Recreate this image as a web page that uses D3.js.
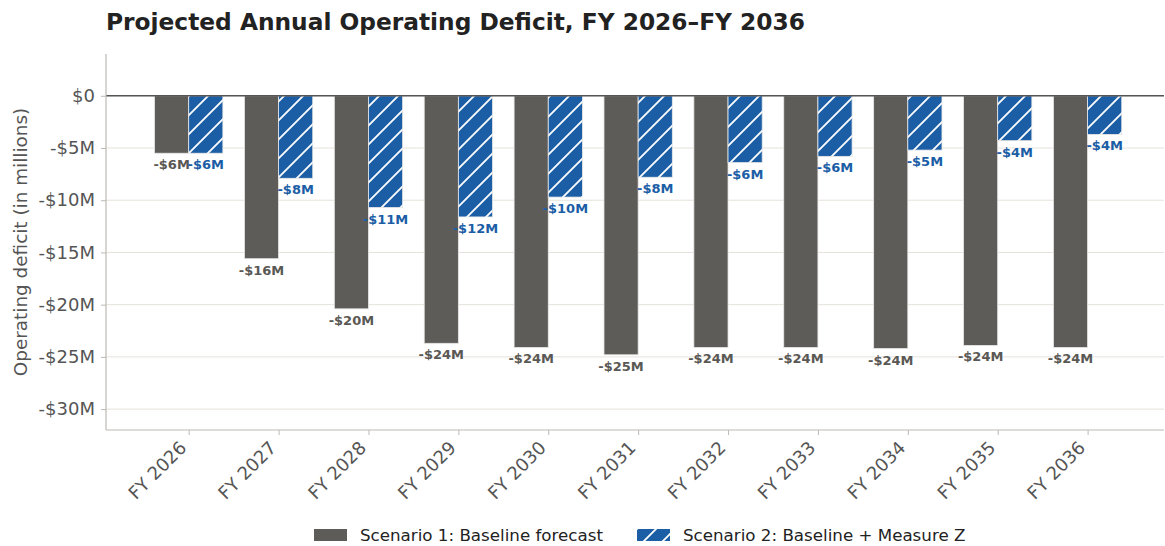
<!DOCTYPE html>
<html>
<head>
<meta charset="utf-8">
<script src="https://cdn.jsdelivr.net/npm/d3@7"></script>
<style>
  html, body { margin: 0; padding: 0; background: #fff; }
  svg { display: block; font-family: "DejaVu Sans", sans-serif; }
</style>
</head>
<body>
<div id="chart"></div>
<script>
// values in $M
const years = ['FY 2026', 'FY 2027', 'FY 2028', 'FY 2029', 'FY 2030', 'FY 2031',
  'FY 2032', 'FY 2033', 'FY 2034', 'FY 2035', 'FY 2036'];
const baseline = [-5.5, -15.6, -20.4, -23.7, -24.1, -24.8, -24.1, -24.1, -24.2, -23.9, -24.1];
const measureZ = [-5.5, -7.9, -10.7, -11.6, -9.7, -7.8, -6.4, -5.8, -5.2, -4.3, -3.7];
const yTicks = [0, -5, -10, -15, -20, -25, -30];
const seriesNames = ['Scenario 1: Baseline forecast', 'Scenario 2: Baseline + Measure Z'];

const W = 1165, H = 546;
const M = { top: 54, right: 1, bottom: 116, left: 106 };
const GRAY = '#5e5c58', BLUE = '#1c5ea5', INK = '#555';

const svg = d3.select('#chart').append('svg').attr('width', W).attr('height', H);

const defs = svg.append('defs');
const pat = defs.append('pattern').attr('id', 'hatch')
  .attr('patternUnits', 'userSpaceOnUse').attr('width', 19).attr('height', 19);
pat.append('rect').attr('width', 19).attr('height', 19).attr('fill', BLUE);
pat.append('path').attr('d', 'M-2,21 L21,-2 M-5,5 L5,-5 M14,24 L24,14')
  .attr('stroke', '#fff').attr('stroke-width', 1.8);

const x = d3.scaleLinear().domain([-0.92, years.length - 1 + 0.85]).range([M.left, W - M.right]);
const y = d3.scaleLinear().domain([4, -32]).range([M.top, H - M.bottom]);
const bw = x(0.38) - x(0);

// gridlines
svg.append('g').selectAll('line').data(yTicks).join('line')
  .attr('x1', M.left).attr('x2', W - M.right)
  .attr('y1', d => y(d)).attr('y2', d => y(d))
  .attr('stroke', '#e4e2dc').attr('stroke-width', 1);

// title
svg.append('text').attr('x', M.left).attr('y', 30)
  .attr('font-size', 23.3).attr('font-weight', 'bold').attr('fill', '#222')
  .text('Projected Annual Operating Deficit, FY 2026\u2013FY 2036');

// bars
const fmtM = v => '-$' + Math.round(Math.abs(v)) + 'M';
const series = [
  { vals: baseline, off: -1, fill: GRAY, color: '#5a5854' },
  { vals: measureZ, off: 0, fill: 'url(#hatch)', color: BLUE }
];
series.forEach(s => {
  const g = svg.append('g');
  g.selectAll('rect').data(s.vals).join('rect')
    .attr('x', (d, i) => x(i) + s.off * bw)
    .attr('y', y(0))
    .attr('width', bw)
    .attr('height', d => y(d) - y(0))
    .attr('fill', s.fill)
    .attr('stroke', '#e8e8e8').attr('stroke-width', 0.8);
  g.selectAll('text').data(s.vals).join('text')
    .attr('x', (d, i) => x(i) + s.off * bw + bw / 2)
    .attr('y', d => y(d) + 16)
    .attr('text-anchor', 'middle')
    .attr('font-size', 13).attr('font-weight', 'bold').attr('fill', s.color)
    .text(d => fmtM(d));
});

// zero line
svg.append('line').attr('x1', M.left).attr('x2', W - M.right)
  .attr('y1', y(0)).attr('y2', y(0))
  .attr('stroke', '#555').attr('stroke-width', 1.5);

// axes
const yAxis = svg.append('g').attr('transform', `translate(${M.left},0)`)
  .call(d3.axisLeft(y).tickValues(yTicks).tickSize(5).tickPadding(6)
    .tickFormat(d => d === 0 ? '$0' : '-$' + Math.abs(d) + 'M'));
const xAxis = svg.append('g').attr('transform', `translate(0,${H - M.bottom})`)
  .call(d3.axisBottom(x).tickValues(d3.range(years.length)).tickSize(5)
    .tickFormat(i => years[i]));
[yAxis, xAxis].forEach(a => {
  a.select('.domain').attr('stroke', '#bdbab2').attr('stroke-width', 1.2);
  a.selectAll('.tick line').attr('stroke', '#bdbab2');
  a.selectAll('.tick text').attr('fill', INK).attr('font-size', 18)
    .attr('font-family', '"DejaVu Sans", sans-serif');
});
yAxis.select('.domain').attr('d', `M0,${M.top}V${H - M.bottom}`);
xAxis.select('.domain').attr('d', `M${M.left},0H${W - M.right}`);
xAxis.selectAll('.tick text')
  .attr('text-anchor', 'end')
  .attr('transform', 'translate(-9,6) rotate(-45)')
  .attr('dy', '0.35em').attr('y', 8).attr('x', -4);

// y label
svg.append('text')
  .attr('transform', `translate(27,${y(-14)}) rotate(-90)`)
  .attr('text-anchor', 'middle').attr('font-size', 18.4).attr('fill', INK)
  .text('Operating deficit (in millions)');

// legend
const leg = svg.append('g').attr('transform', 'translate(314,529)');
const legItems = [
  { x: 0, fill: GRAY, name: seriesNames[0] },
  { x: 323, fill: 'url(#hatch)', name: seriesNames[1] }
];
legItems.forEach(li => {
  leg.append('rect').attr('x', li.x).attr('y', 0).attr('width', 33).attr('height', 12)
    .attr('fill', li.fill);
  leg.append('text').attr('x', li.x + 46).attr('y', 12)
    .attr('font-size', 16.7).attr('fill', '#222').text(li.name);
});
</script>
</body>
</html>
